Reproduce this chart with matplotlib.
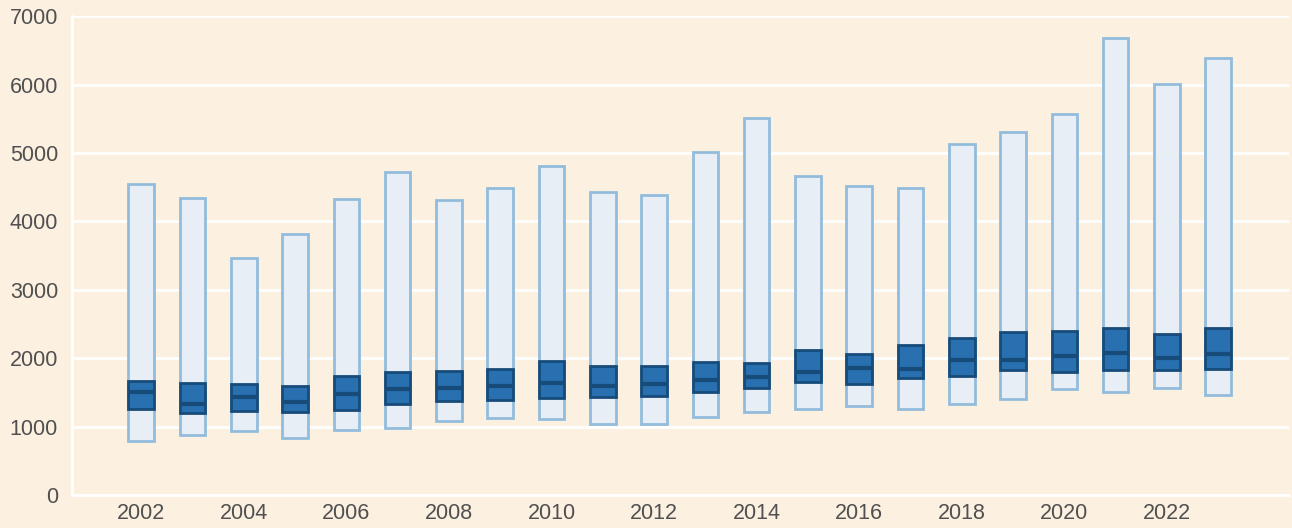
import numpy as np
import matplotlib
matplotlib.use("Agg")
import matplotlib.pyplot as plt

# ------------------------------------------------------------------------
# Data
# ------------------------------------------------------------------------

years = np.arange(2002, 2024)
low = [796, 879, 942, 839, 956, 985, 1083, 1131, 1112, 1044, 1044,
       1141, 1209, 1258, 1297, 1258, 1331, 1399, 1550, 1511, 1569, 1463]
q1 = [1250, 1200, 1234, 1209, 1238, 1336, 1375, 1394, 1423, 1433, 1453,
      1511, 1569, 1647, 1618, 1706, 1745, 1828, 1793, 1822, 1832, 1842]
median = [1501, 1336, 1433, 1365, 1472, 1550, 1569, 1599, 1638, 1589, 1628,
          1676, 1725, 1803, 1852, 1842, 1978, 1978, 2036, 2076, 2007, 2055]
q3 = [1672, 1638, 1628, 1599, 1735, 1803, 1818, 1840, 1953, 1880, 1880,
      1939, 1930, 2114, 2066, 2193, 2299, 2377, 2397, 2445, 2347, 2435]
high = [4547, 4343, 3467, 3818, 4328, 4723, 4314, 4489, 4810, 4431, 4387,
        5015, 5511, 4664, 4518, 4489, 5131, 5307, 5569, 6679, 6007, 6387]

xticks = list(range(2002, 2023, 2))

# ------------------------------------------------------------------------
# Plot
# ------------------------------------------------------------------------

bg = "#fcf0e1"
width = 0.5

plt.rcParams["font.family"] = ["Liberation Sans", "DejaVu Sans"]

fig = plt.figure(figsize=(12.92, 5.28), dpi=100, facecolor=bg)
ax = fig.add_axes([0.0557, 0.0625, 0.942, 0.907])
ax.set_facecolor(bg)

low = np.array(low)
high = np.array(high)
q1 = np.array(q1)
q3 = np.array(q3)
median = np.array(median)

ax.bar(years, high - low, bottom=low, width=width,
       color="#e8eef5", edgecolor="#93bcdc", linewidth=2, zorder=2)
ax.bar(years, q3 - q1, bottom=q1, width=width,
       color="#2870b0", edgecolor="#174b7a", linewidth=2, zorder=3)
ax.hlines(median, years - width / 2, years + width / 2,
          color="#174b7a", linewidth=3, zorder=4)

ax.set_ylim(0, 7000)
ax.set_xlim(2000.65, 2024.38)
ax.set_yticks(range(0, 7001, 1000))
ax.set_xticks(xticks)

ax.grid(axis="y", color="white", linewidth=2, zorder=0)
ax.set_axisbelow(True)
for side in ["top", "right"]:
  ax.spines[side].set_visible(False)
for side in ["left", "bottom"]:
  ax.spines[side].set_color("white")
  ax.spines[side].set_linewidth(2)

ax.tick_params(length=0, labelsize=15.5, labelcolor="#505050")
ax.tick_params(axis="y", pad=10)
ax.tick_params(axis="x", pad=6)

fig.savefig("out.png", dpi=100, facecolor=bg)
